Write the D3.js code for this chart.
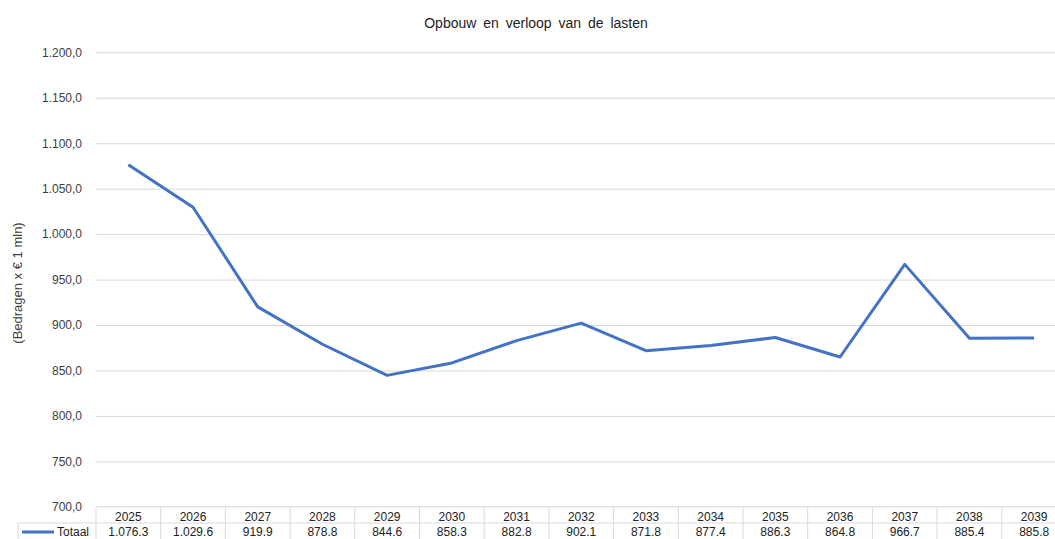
<!DOCTYPE html>
<html><head><meta charset="utf-8">
<script src="https://cdn.jsdelivr.net/npm/d3@7"></script>
<style>
body{margin:0;background:#fff;}
svg{display:block;font-family:"Liberation Sans",Arial,sans-serif;}
</style></head>
<body>
<svg id="chart" width="1055" height="539"></svg>
<script>
const years = ["2025","2026","2027","2028","2029","2030","2031","2032","2033","2034","2035","2036","2037","2038","2039"];
const totaal = [1076.3,1029.6,919.9,878.8,844.6,858.3,882.8,902.1,871.8,877.4,886.3,864.8,966.7,885.4,885.8];
const yTicks = [700,750,800,850,900,950,1000,1050,1100,1150,1200];
const seriesName = "Totaal";
const chartTitle = "Opbouw en verloop van de lasten";
const yTitle = "(Bedragen x € 1 mln)";

const svg = d3.select("#chart");
const plotLeft = 96, colW = 64.7;
const plotTop = 52.3, plotBottom = 506.8;
const x = d3.scaleBand().domain(years).range([plotLeft, plotLeft + colW*years.length]).padding(0);
const y = d3.scaleLinear().domain([700,1200]).range([plotBottom, plotTop]);

const nlTick = d3.formatLocale({decimal:",", thousands:".", grouping:[3]}).format(",.1f");
const tblFmt = d3.formatLocale({decimal:".", thousands:".", grouping:[3]}).format(",.1f");
const grid = "#d9d9d9";
const txt = "#404040";

// title
svg.append("text").attr("x",536).attr("y",28).attr("text-anchor","middle")
  .attr("font-size","14px").attr("word-spacing","3px").attr("fill","#222").text(chartTitle);

// gridlines + y axis
const yAxis = d3.axisLeft(y).tickValues(yTicks).tickSize(-(1055-plotLeft)).tickFormat(nlTick).tickPadding(14);
const ga = svg.append("g").attr("transform",`translate(${plotLeft},0)`).call(yAxis);
ga.select(".domain").remove();
ga.selectAll(".tick line").attr("stroke",grid).attr("stroke-width",1)
  .filter(d=>d===700).remove();
ga.selectAll(".tick text").attr("font-size","12px").attr("fill",txt)
  .attr("font-family","Liberation Sans, Arial, sans-serif");

// y title
svg.append("text").attr("transform","translate(22,283) rotate(-90)").attr("text-anchor","middle")
  .attr("font-size","13px").attr("fill",txt).text(yTitle);

// line
const line = d3.line().x((d,i)=>x(years[i])+x.bandwidth()/2).y(d=>y(d));
svg.append("path").datum(totaal).attr("d",line).attr("fill","none")
  .attr("stroke","#4472C4").attr("stroke-width",3).attr("stroke-linejoin","round");

// data table
const rowTop = plotBottom, rowMid = 523, rowBot = 541;
const tb = svg.append("g").attr("stroke",grid).attr("stroke-width",1).attr("fill","none");
tb.append("line").attr("x1",plotLeft).attr("x2",1055).attr("y1",rowTop).attr("y2",rowTop);
tb.append("line").attr("x1",18).attr("x2",1055).attr("y1",rowMid).attr("y2",rowMid);
tb.append("line").attr("x1",18).attr("x2",18).attr("y1",rowMid).attr("y2",rowBot);
years.forEach(yr=>{
  tb.append("line").attr("x1",x(yr)).attr("x2",x(yr)).attr("y1",rowTop).attr("y2",rowBot);
});
tb.append("line").attr("x1",x(years[years.length-1])+colW).attr("x2",x(years[years.length-1])+colW).attr("y1",rowTop).attr("y2",rowBot);

svg.append("g").selectAll("text").data(years).join("text")
  .attr("x",d=>x(d)+x.bandwidth()/2).attr("y",521).attr("text-anchor","middle")
  .attr("font-size","12px").attr("fill","#222").text(d=>d);
svg.append("g").selectAll("text").data(totaal).join("text")
  .attr("x",(d,i)=>x(years[i])+x.bandwidth()/2).attr("y",536).attr("text-anchor","middle")
  .attr("font-size","12px").attr("fill","#222").text(d=>tblFmt(d));

// legend key
svg.append("line").attr("x1",22).attr("x2",54).attr("y1",532).attr("y2",532)
  .attr("stroke","#4472C4").attr("stroke-width",3);
svg.append("text").attr("x",57).attr("y",536).attr("font-size","12px").attr("fill","#222").text(seriesName);
</script>
</body></html>
